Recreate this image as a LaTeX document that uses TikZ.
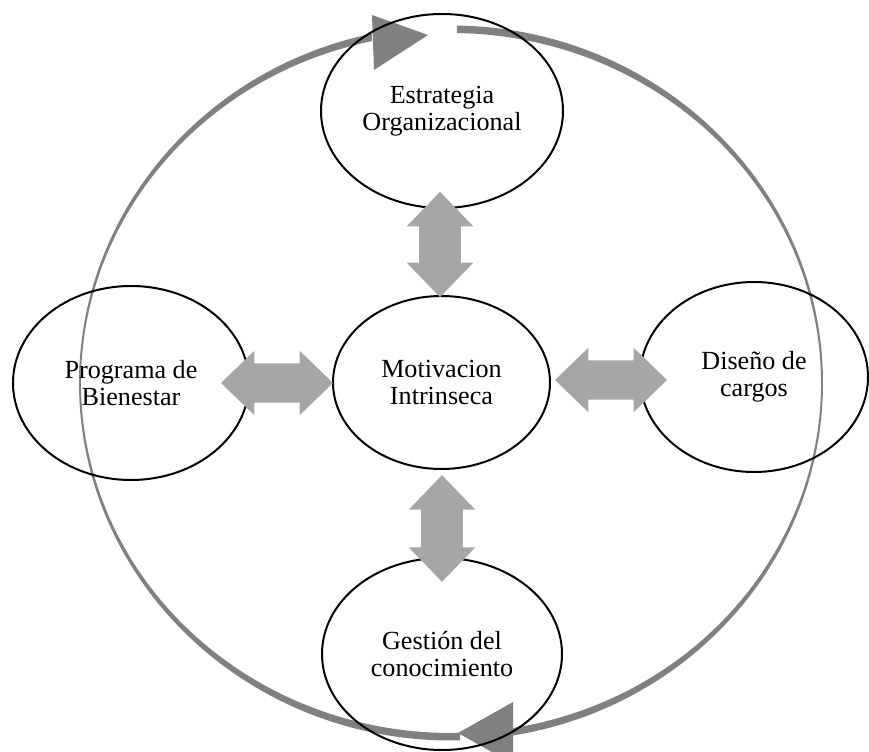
\documentclass[tikz,border=0pt]{standalone}
\usepackage{fontspec}
\setmainfont{Liberation Serif}
\usetikzlibrary{shapes.geometric,shapes.arrows}
\definecolor{ringgray}{HTML}{808080}
\definecolor{arrgray}{HTML}{A6A6A6}
\tikzset{
  bubble/.style={ellipse, draw=black, line width=1.5pt, inner sep=0pt, align=center,
    font=\fontsize{19.6}{20.5}\selectfont},
  dblarr/.style={double arrow, fill=arrgray, draw=none, inner xsep=0pt, inner ysep=14.6pt,
    double arrow head extend=9.4pt, double arrow tip angle=88,
    minimum height=84pt, minimum width=48pt}
}
\begin{document}
\begin{tikzpicture}[x=0.75pt,y=-0.75pt]
\useasboundingbox (0,0) rectangle (869,752);
\clip (0,0) rectangle (869,752);
% outer cycle (clockwise arcs with arrowheads)
\begin{scope}[shift={(451,383)}]
  \fill[ringgray] (-89.1:372 and 357.5) arc[start angle=-89.1, end angle=80.4, x radius=372, y radius=357.5]
    -- (80.4:370 and 350) arc[start angle=80.4, end angle=-89.1, x radius=370, y radius=350] -- cycle;
  \fill[ringgray] (88.6:372 and 357.5) arc[start angle=88.6, end angle=257.7, x radius=372, y radius=357.5]
    -- (257.7:370 and 350) arc[start angle=257.7, end angle=88.6, x radius=370, y radius=350] -- cycle;
\end{scope}
\coordinate (hT1) at (372,15);
\coordinate (hT2) at (428,35);
\coordinate (hT3) at (374,70);
\fill[ringgray] (hT1) -- (hT2) -- (hT3) -- cycle;
\coordinate (hB1) at (513,702);
\coordinate (hB2) at (458,733);
\coordinate (hB3) at (513,764);
\fill[ringgray] (hB1) -- (hB2) -- (hB3) -- cycle;
% ellipses
\node[bubble, minimum width=181.5pt, minimum height=145.5pt] (est) at (442,111) {Estrategia\\Organizacional};
\node[bubble, minimum width=162.75pt, minimum height=129.75pt] (mot) at (441.5,382.5) {Motivacion\\Intrinseca};
\node[bubble, minimum width=177pt, minimum height=145.5pt] (bie) at (131,383) {Programa de\\Bienestar};
\node[bubble, minimum width=171pt, minimum height=142.5pt] (dis) at (754,377) {Diseño de\\cargos};
\node[bubble, minimum width=180pt, minimum height=144pt] (ges) at (442,654) {Gestión del\\conocimiento};
% double arrows
\node[dblarr] (aL) at (277,383) {};
\node[dblarr] (aR) at (611,380) {};
\node[dblarr, rotate=90, minimum height=79pt, inner ysep=15.4pt, minimum width=49.5pt] (aT) at (440,244.5) {};
\node[dblarr, rotate=90, minimum height=80pt, inner ysep=15.4pt, minimum width=49.5pt] (aB) at (442,528.5) {};
\end{tikzpicture}
\end{document}
